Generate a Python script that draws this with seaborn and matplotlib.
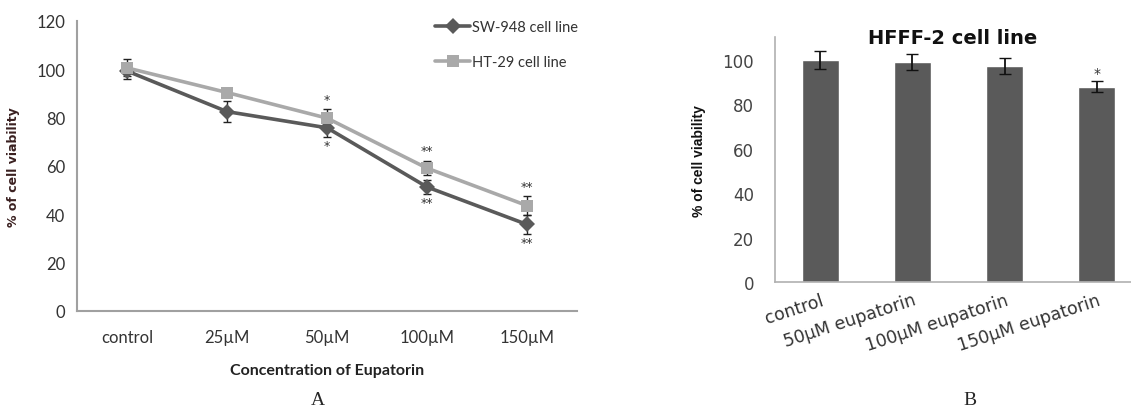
import numpy as np
import pandas as pd
import seaborn as sns
import matplotlib.pyplot as plt

## Data - panel A
conc = ["control", "25µM", "50µM", "100µM", "150µM"]
sw948 = [99.3, 82.5, 75.8, 51.3, 35.8]
sw948_err = [3.5, 4.3, 3.8, 3.0, 3.9]
ht29 = [100.6, 90.4, 79.8, 59.1, 43.6]
ht29_err = [3.5, 2.0, 3.6, 3.0, 3.8]
sw948_stars = ["", "", "*", "**", "**"]
ht29_stars = ["", "", "*", "**", "**"]

## Data - panel B
groups_b = ["control", "50µM eupatorin", "100µM eupatorin", "150µM eupatorin"]
hfff2 = [99.8, 98.8, 97.3, 87.9]
hfff2_err = [4.2, 3.7, 3.6, 2.3]
hfff2_stars = ["", "", "", "*"]

sns.set_style("white")
plt.rcParams['font.family'] = ['Lato', 'DejaVu Sans']

fig = plt.figure(figsize=(11.31, 4.14), dpi=100)

dark = "#5a5a5a"
light = "#a9a9a9"
axcol = "#a0a0a0"

## Panel A
ax = fig.add_axes([0.0681, 0.2464, 0.4421, 0.7005])
pos = np.arange(len(conc))
df_a = pd.DataFrame({"pos": np.concatenate([pos, pos]),
                     "val": sw948 + ht29,
                     "line": ["SW-948 cell line"] * 5 + ["HT-29 cell line"] * 5})
sns.lineplot(data=df_a, x="pos", y="val", hue="line", style="line",
             palette=[dark, light], markers=["D", "s"], dashes=False,
             linewidth=2.6, markersize=8, markeredgewidth=0, ax=ax, zorder=3)
ax.errorbar(pos, ht29, yerr=ht29_err, fmt="none", ecolor="#222222",
            elinewidth=1, capsize=3, zorder=2)
ax.errorbar(pos, sw948, yerr=sw948_err, fmt="none", ecolor="#222222",
            elinewidth=1, capsize=3, zorder=2)
for i in range(len(conc)):
    if ht29_stars[i]:
        ax.text(pos[i], ht29[i] + ht29_err[i] + 1.5, ht29_stars[i], ha="center",
                va="bottom", fontsize=9, color="#333333", family="DejaVu Sans")
    if sw948_stars[i]:
        ax.text(pos[i], sw948[i] - sw948_err[i] - 0.8, sw948_stars[i], ha="center",
                va="top", fontsize=9, color="#333333", family="DejaVu Sans")

ax.set_xlim(-0.5, 4.5)
ax.set_ylim(0, 120)
ax.set_yticks(range(0, 121, 20))
ax.set_xticks(pos)
ax.set_xticklabels(conc)
ax.set_xticks(np.arange(0.5, 4.6, 1), minor=True)
ax.tick_params(axis="x", which="major", length=0, pad=13, labelsize=12, colors="#333333")
ax.tick_params(axis="x", which="minor", length=5, width=1.2, color=axcol, direction="out")
ax.tick_params(axis="y", length=5, width=1.2, color=axcol, direction="out",
               labelsize=12, labelcolor="#333333")
for s in ["top", "right"]:
    ax.spines[s].set_visible(False)
for s in ["left", "bottom"]:
    ax.spines[s].set_color(axcol)
    ax.spines[s].set_linewidth(1.5)
ax.set_xlabel("Concentration of Eupatorin", fontsize=11.5, fontweight="bold",
              color="#222222", labelpad=13)
ax.set_ylabel("% of cell viability", fontsize=9, fontweight="bold",
              color="#3a2020", family="DejaVu Sans", labelpad=12)
leg = ax.legend(loc="upper left", bbox_to_anchor=(0.69, 1.05), frameon=False,
                fontsize=10.5, handlelength=2.4, handletextpad=0.15, labelspacing=1.45)
for t in leg.get_texts():
    t.set_color("#333333")

## Panel B
bx = fig.add_axes([0.6852, 0.3157, 0.3148, 0.5918])
sns.barplot(x=groups_b, y=hfff2, color="#5a5a5a", width=0.4, saturation=1, ax=bx)
bx.errorbar(np.arange(len(groups_b)), hfff2, yerr=hfff2_err, fmt="none",
            ecolor="#111111", elinewidth=1.3, capsize=4)
for i in range(len(groups_b)):
    if hfff2_stars[i]:
        bx.text(i, hfff2[i] + hfff2_err[i] + 0.5, hfff2_stars[i], ha="center",
                va="bottom", fontsize=10, color="#333333", family="DejaVu Sans")
bx.set_xlim(-0.49, 3.37)
bx.set_ylim(0, 110)
bx.set_yticks(range(0, 101, 20))
bx.tick_params(axis="y", length=6, width=1, color="#b0b0b0", direction="out",
               pad=9, labelsize=12, labelcolor="#444444")
bx.set_yticklabels([str(v) for v in range(0, 101, 20)], family="DejaVu Sans")
bx.tick_params(axis="x", length=0, pad=6, labelsize=12.5, labelcolor="#333333")
bx.set_xticks(np.arange(len(groups_b)))
bx.set_xticklabels(groups_b, rotation=18, ha="right", rotation_mode="anchor",
                   family="DejaVu Sans")
for s in ["top", "right"]:
    bx.spines[s].set_visible(False)
for s in ["left", "bottom"]:
    bx.spines[s].set_color("#b0b0b0")
    bx.spines[s].set_linewidth(1.2)
bx.set_xlabel("")
bx.set_ylabel("% of cell viability", fontsize=10, fontweight="bold",
              family="Liberation Sans", color="#111111", labelpad=12)
bx.set_title("HFFF-2 cell line", fontsize=14, fontweight="bold",
             family="DejaVu Sans", pad=-4, color="#111111")

fig.text(0.2812, 0.022, "A", fontsize=14, family="Liberation Serif", ha="center")
fig.text(0.8577, 0.022, "B", fontsize=14, family="Liberation Serif", ha="center")

fig.savefig("out.png", dpi=100)
